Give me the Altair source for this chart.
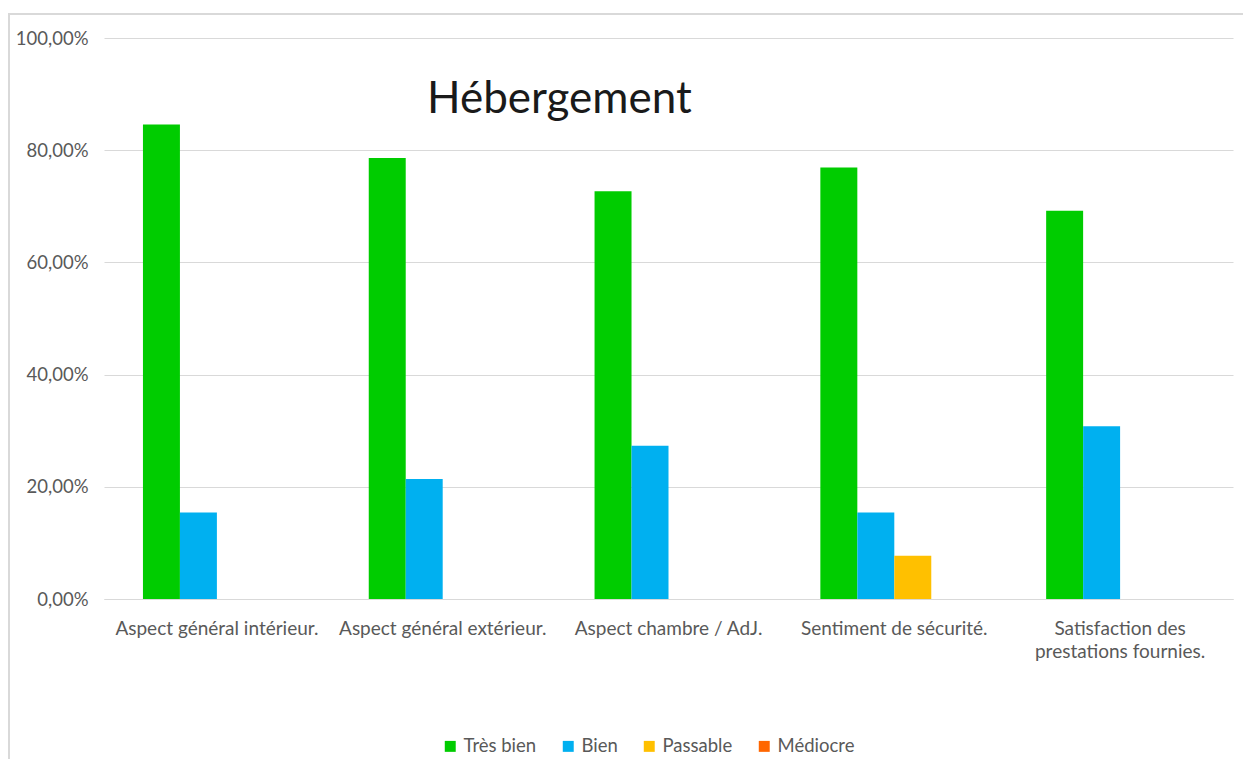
import altair as alt
import pandas as pd

categories = [
    "Aspect général intérieur.",
    "Aspect général extérieur.",
    "Aspect chambre / AdJ.",
    "Sentiment de sécurité.",
    "Satisfaction des prestations fournies.",
]
series = ["Très bien", "Bien", "Passable", "Médiocre"]
colors = ["#00CC00", "#00B0F0", "#FFC000", "#FF6600"]

tres_bien = [0.846, 0.786, 0.727, 0.769, 0.692]
bien = [0.154, 0.214, 0.273, 0.154, 0.308]
passable = [0.0, 0.0, 0.0, 0.077, 0.0]
mediocre = [0.0, 0.0, 0.0, 0.0, 0.0]

rows = []
for s, vals in zip(series, [tres_bien, bien, passable, mediocre]):
    for c, v in zip(categories, vals):
        rows.append({"cat": c, "serie": s, "val": v})
df = pd.DataFrame(rows)

FONT = "Lato"
GRAY = "#595959"

bars = alt.Chart(df).mark_bar().encode(
    x=alt.X(
        "cat:N",
        sort=categories,
        title=None,
        scale=alt.Scale(paddingInner=0.345, paddingOuter=0.1725),
        axis=alt.Axis(
            labelAngle=0,
            labelFont=FONT,
            labelFontSize=19,
            labelColor=GRAY,
            labelPadding=20,
            labelLineHeight=23,
            ticks=False,
            domainColor="#D9D9D9",
            labelLimit=300,
            labelExpr="datum.value == 'Satisfaction des prestations fournies.' ? ['Satisfaction des', 'prestations fournies.'] : datum.label",
        ),
    ),
    xOffset=alt.XOffset("serie:N", sort=series),
    y=alt.Y(
        "val:Q",
        title=None,
        scale=alt.Scale(domain=[0, 1], nice=False),
        axis=alt.Axis(
            values=[0, 0.2, 0.4, 0.6, 0.8, 1.0],
            labelExpr="replace(format(datum.value, '.2%'), '.', ',')",
            labelFont=FONT,
            labelFontSize=18.5,
            labelColor=GRAY,
            labelPadding=16,
            ticks=False,
            domain=False,
            gridColor="#D9D9D9",
        ),
    ),
    color=alt.Color(
        "serie:N",
        sort=series,
        scale=alt.Scale(domain=series, range=colors),
        legend=alt.Legend(
            title=None,
            orient="none",
            direction="horizontal",
            legendX=337,
            legendY=699,
            symbolType="square",
            symbolSize=120,
            symbolStrokeWidth=0,
            labelFont=FONT,
            labelFontSize=18.5,
            labelColor=GRAY,
            columnPadding=22,
            labelOffset=4,
        ),
    ),
)

title_df = pd.DataFrame({"t": ["Hébergement"]})
title = alt.Chart(title_df).mark_text(
    align="left", baseline="alphabetic", font=FONT, fontSize=44, color="#1A1A1A"
).encode(text="t:N", x=alt.value(323), y=alt.value(75))

frame = alt.Chart(title_df).mark_rect(
    fill=None, stroke="#D9D9D9", strokeWidth=2, clip=False
).encode(x=alt.value(-95), x2=alt.value(1200), y=alt.value(-24), y2=alt.value(760))

chart = alt.layer(frame, bars, title).properties(
    width=1129,
    height=561,
    autosize=alt.AutoSizeParams(type="none"),
    padding={"left": 96, "top": 30, "right": 10, "bottom": 160},
).configure_view(stroke=None)

chart.save("out.html", embed_options={"renderer": "svg", "actions": False})
